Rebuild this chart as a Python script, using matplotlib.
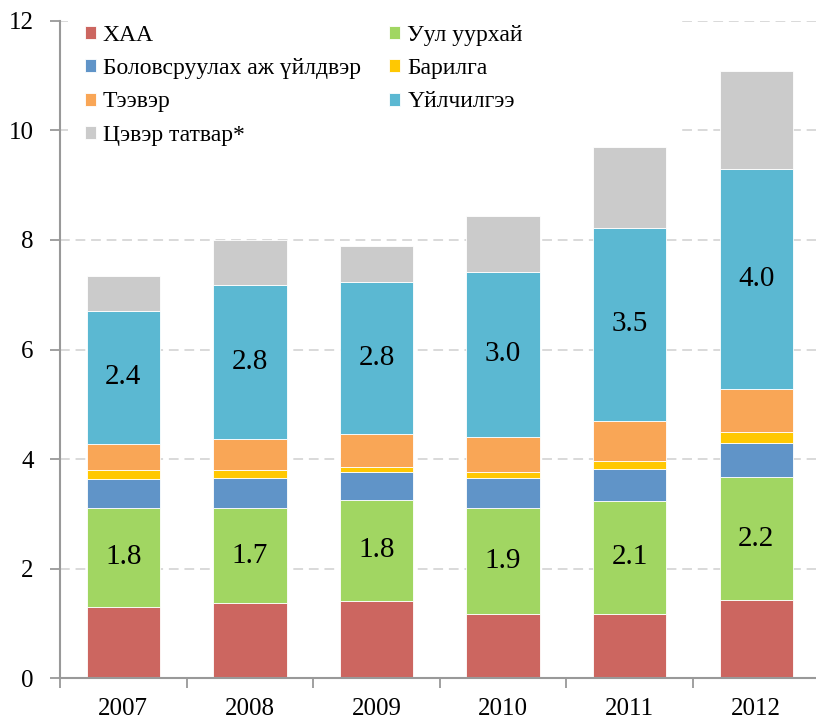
import numpy as np
import matplotlib
matplotlib.use("Agg")
from matplotlib import pyplot as plt
from matplotlib.patches import Rectangle

### data ###

years = ["2007", "2008", "2009", "2010", "2011", "2012"]

agri = [1.31, 1.37, 1.42, 1.18, 1.18, 1.43]          # ХАА
mining = [1.79, 1.74, 1.84, 1.93, 2.06, 2.24]        # Уул уурхай
manuf = [0.54, 0.55, 0.50, 0.55, 0.58, 0.63]         # Боловсруулах аж үйлдвэр
constr = [0.16, 0.15, 0.10, 0.10, 0.15, 0.19]        # Барилга
transport = [0.48, 0.56, 0.59, 0.65, 0.73, 0.79]     # Тээвэр
services = [2.42, 2.81, 2.79, 3.01, 3.52, 4.02]      # Үйлчилгээ
net_tax = [0.65, 0.82, 0.64, 1.01, 1.48, 1.79]       # Цэвэр татвар*

series_names = ["ХАА", "Уул уурхай", "Боловсруулах аж үйлдвэр", "Барилга",
                "Тээвэр", "Үйлчилгээ", "Цэвэр татвар*"]
series_vals = [agri, mining, manuf, constr, transport, services, net_tax]
series_colors = ["#CC6660", "#A1D662", "#6094C8", "#FFC802",
                 "#F9A656", "#5BB8D2", "#CBCBCB"]
labelled = ["Уул уурхай", "Үйлчилгээ"]

### plot ###

plt.rcParams['font.family'] = ['Liberation Serif', 'DejaVu Serif']

fig = plt.figure(figsize=(8.16, 7.22), dpi=100)
ax = fig.add_axes([0.0735, 0.0605, 0.931, 0.9108])

x = np.arange(len(years))
bottom = np.zeros(len(years))
handles = {}
for name, vals, col in zip(series_names, series_vals, series_colors):
    vals = np.array(vals)
    bars = ax.bar(x, vals, width=0.58, bottom=bottom, color=col,
                  edgecolor="white", linewidth=0.6, zorder=2, label=name)
    handles[name] = bars
    if name in labelled:
        for xi, b, v in zip(x, bottom, vals):
            ax.text(xi, b + v / 2, "%.1f" % v, ha="center", va="center",
                    fontsize=21, zorder=3)
    bottom = bottom + vals

ax.set_xlim(-0.5, 5.5)
ax.set_ylim(0, 12)
ax.set_yticks(range(0, 13, 2))
ax.set_xticks(x)
ax.set_xticklabels(years)
ax.set_xticks(np.arange(-0.5, 6.0, 1.0), minor=True)
ax.tick_params(axis="x", which="major", length=0, pad=14, labelsize=18)
ax.tick_params(axis="x", which="minor", length=7, width=1.3, color="#999999")
ax.tick_params(axis="y", length=7, width=1.3, color="#999999", pad=12, labelsize=18)

for side in ["top", "right"]:
    ax.spines[side].set_visible(False)
for side in ["left", "bottom"]:
    ax.spines[side].set_color("#999999")
    ax.spines[side].set_linewidth(1.5)

ax.set_axisbelow(True)
ax.yaxis.grid(True, color="#d9d9d9", linestyle=(0, (5, 3)), linewidth=1.4)

# white panel behind the legend hides the gridlines there
ax.add_patch(Rectangle((0.01, 0.805), 0.803, 0.2, transform=ax.transAxes,
                       facecolor="white", edgecolor="none", zorder=1))

order = ["ХАА", "Боловсруулах аж үйлдвэр", "Тээвэр", "Цэвэр татвар*",
         "Уул уурхай", "Барилга", "Үйлчилгээ"]
lgd = ax.legend([handles[n] for n in order], order, ncol=2, loc="upper left",
                bbox_to_anchor=(0.02, 1.008), frameon=False, fontsize=17,
                handlelength=0.47, handleheight=0.47, handletextpad=0.3,
                labelspacing=0.52, columnspacing=1.2, borderaxespad=0)

fig.savefig("out.png", dpi=100)
